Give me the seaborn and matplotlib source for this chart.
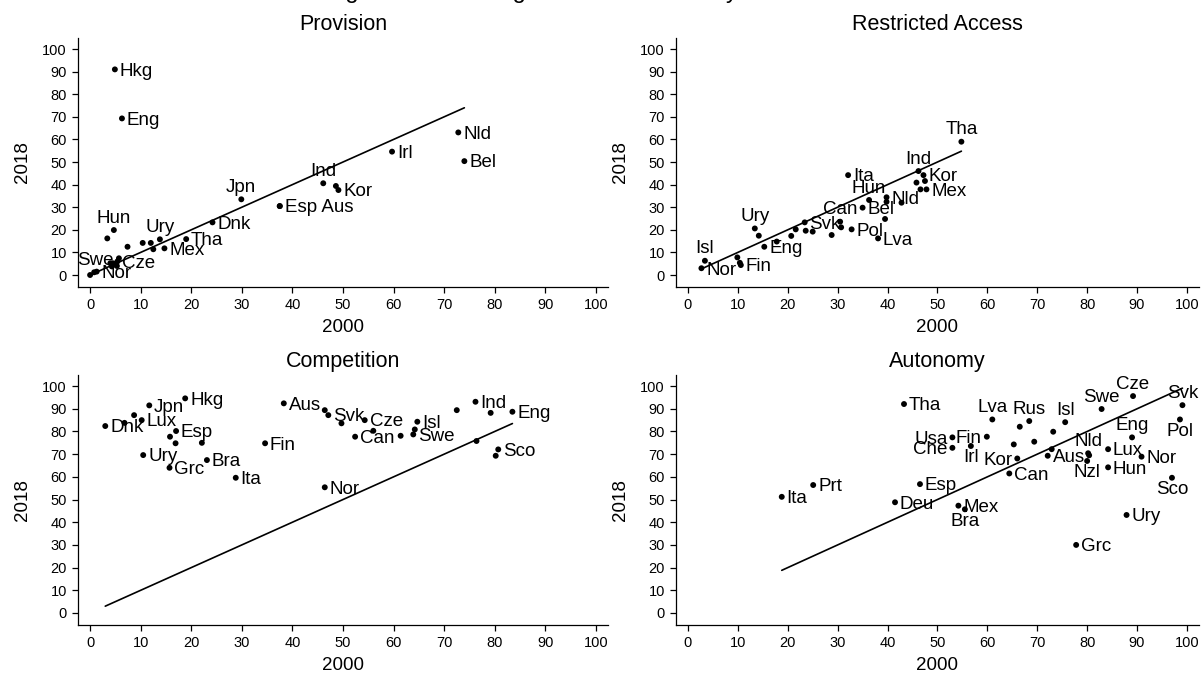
import pandas as pd
import matplotlib.pyplot as plt
import seaborn as sns

# ---- data (x = 2000, y = 2018) ----
prov_cty = ["Hkg", "Eng", "Hun", "", "", "", "", "Ury", "", "Mex", "Tha", "Dnk", "Jpn",
            "Esp", "Aus", "Ind", "", "Kor", "Irl", "Nld", "Bel",
            "", "", "Nor", "", "", "", "Swe", "Cze", ""]
prov_x = [4.9, 6.3, 4.7, 3.4, 7.4, 10.4, 12.0, 13.8, 12.5, 14.7, 19.0, 24.2, 29.9,
          37.5, 37.5, 46.1, 48.6, 49.1, 59.7, 72.8, 74.0,
          0.0, 0.8, 1.3, 4.0, 4.5, 4.3, 5.7, 5.4, 5.3]
prov_y = [91.0, 69.3, 19.9, 16.2, 12.5, 14.2, 14.2, 15.8, 11.4, 11.8, 15.9, 23.3, 33.5,
          30.5, 30.5, 40.6, 39.4, 37.6, 54.6, 63.1, 50.4,
          0.0, 1.2, 1.5, 5.2, 5.2, 3.8, 7.4, 6.0, 4.0]
prov_pos = [3, 3, 12, 3, 3, 3, 3, 12, 3, 3, 3, 3, 12,
            3, 3, 12, 3, 3, 3, 3, 3,
            3, 3, 3, 3, 3, 3, 9, 3, 3]

acc_cty = ["Tha", "Ind", "Kor", "", "", "", "Mex", "Ita", "Hun", "Nld", "", "", "Bel", "",
           "Can", "", "Pol", "Lva", "", "Svk", "", "", "", "", "", "Eng", "Ury", "",
           "", "", "Fin", "Isl", "Nor"]
acc_x = [54.8, 46.2, 47.2, 45.8, 47.5, 46.6, 47.8, 32.1, 36.3, 39.8, 39.8, 42.8, 35.0, 39.5,
         30.5, 30.7, 32.8, 38.1, 28.8, 23.4, 23.6, 25.0, 21.6, 20.7, 17.8, 15.3, 13.4, 14.2,
         9.9, 10.4, 10.6, 3.4, 2.7]
acc_y = [59.0, 46.0, 44.2, 40.9, 41.6, 37.9, 37.9, 44.2, 33.2, 34.4, 32.4, 32.0, 29.8, 24.8,
         23.6, 21.1, 20.2, 16.2, 17.7, 23.3, 19.6, 19.2, 20.2, 17.3, 14.8, 12.5, 20.6, 17.4,
         7.8, 5.4, 4.4, 6.3, 3.0]
acc_pos = [12, 12, 3, 3, 3, 3, 3, 3, 12, 3, 3, 3, 3, 3,
           12, 3, 3, 3, 3, 3, 3, 3, 3, 3, 3, 3, 12, 3,
           3, 3, 3, 12, 3]

comp_cty = ["Dnk", "", "", "Lux", "Jpn", "Hkg", "Esp", "", "", "", "Ury", "Grc", "Bra", "Ita",
            "Fin", "Aus", "", "Svk", "", "Cze", "Can", "", "", "Swe", "", "Isl", "", "Ind",
            "", "Eng", "", "Sco", "", "Nor"]
comp_x = [3.0, 6.8, 8.7, 10.2, 11.7, 18.8, 17.0, 15.8, 16.9, 22.1, 10.5, 15.7, 23.1, 28.8,
          34.6, 38.3, 46.4, 47.1, 49.7, 54.3, 52.4, 56.0, 61.4, 63.9, 64.2, 64.7, 72.5, 76.2,
          79.2, 83.5, 76.4, 80.7, 80.2, 46.4]
comp_y = [82.4, 83.8, 87.2, 85.0, 91.5, 94.6, 80.2, 77.7, 74.8, 75.0, 69.6, 64.0, 67.4, 59.6,
          74.8, 92.4, 89.4, 87.2, 83.6, 85.0, 77.7, 80.3, 78.1, 78.7, 80.9, 84.3, 89.4, 93.1,
          88.2, 88.7, 75.8, 72.1, 69.3, 55.4]
comp_pos = [3] * len(comp_cty)

aut_cty = ["Ita", "Prt", "Tha", "Deu", "Esp", "Usa", "Che", "Irl", "Fin", "Lva", "", "Rus",
           "Isl", "Swe", "Cze", "Svk", "Pol", "", "", "", "Kor", "Can", "", "Aus", "Nld", "",
           "Nzl", "Lux", "Hun", "Eng", "Nor", "Sco", "Mex", "Bra", "Ury", "Grc"]
aut_x = [18.8, 25.1, 43.3, 41.5, 46.5, 53.0, 53.0, 56.7, 59.9, 61.0, 66.5, 68.4,
         75.6, 82.9, 89.2, 99.1, 98.6, 73.2, 69.4, 65.3, 66.0, 64.4, 72.9, 72.1, 80.2, 80.4,
         80.0, 84.2, 84.2, 89.0, 90.9, 97.0, 54.2, 55.5, 87.9, 77.8]
aut_y = [51.2, 56.4, 92.1, 48.8, 56.8, 77.4, 72.8, 73.6, 77.7, 85.3, 82.1, 84.6,
         84.1, 89.9, 95.6, 91.6, 85.3, 79.9, 75.5, 74.3, 68.1, 61.5, 72.2, 69.3, 70.4, 69.5,
         67.0, 72.2, 64.2, 77.4, 68.9, 59.6, 47.3, 45.7, 43.2, 30.0]
aut_pos = [3, 3, 3, 3, 3, 9, 9, 6, 9, 12, 3, 12,
           12, 12, 12, 12, 6, 3, 3, 3, 9, 3, 3, 3, 12, 3,
           6, 3, 3, 12, 3, 6, 3, 6, 3, 3]

panels = [
    ("Provision", prov_cty, prov_x, prov_y, prov_pos),
    ("Restricted Access", acc_cty, acc_x, acc_y, acc_pos),
    ("Competition", comp_cty, comp_x, comp_y, comp_pos),
    ("Autonomy", aut_cty, aut_x, aut_y, aut_pos),
]
ticks = list(range(0, 101, 10))

sns.set_theme(style="white")
plt.rcParams["font.family"] = ["Liberation Sans", "DejaVu Sans"]

fig = plt.figure(figsize=(12.03, 6.77), dpi=100)
rects = [
    [0.0648, 0.5761, 0.4406, 0.3678],
    [0.5619, 0.5761, 0.4347, 0.3678],
    [0.0648, 0.0768, 0.4406, 0.3693],
    [0.5619, 0.0768, 0.4347, 0.3693],
]

# clock position -> (dx, dy, ha, va) in points
gap = 3.5
clock = {
    3: (gap, -1.3, "left", "center"),
    9: (-gap, -1.3, "right", "center"),
    12: (0, gap - 1, "center", "bottom"),
    6: (0, -gap + 1, "center", "top"),
}

for rect, (title, cty, xs, ys, pos) in zip(rects, panels):
    ax = fig.add_axes(rect)
    df = pd.DataFrame({"country": cty, "x": xs, "y": ys, "pos": pos})
    sns.scatterplot(data=df, x="x", y="y", ax=ax, color="black", s=18,
                    edgecolor="none", zorder=3)

    # 45-degree reference line over the observed 2000 range
    lo, hi = df["x"].min(), df["x"].max()
    ax.plot([lo, hi], [lo, hi], color="black", lw=1.2, zorder=2)

    # countries sharing a point get one joined label
    grp = df[df["country"] != ""].groupby(["x", "y"], sort=False)
    for (px, py), g in grp:
        text = " ".join(g["country"])
        dx, dy, ha, va = clock[int(g["pos"].iloc[0])]
        ax.annotate(text, (px, py), xytext=(dx, dy), textcoords="offset points",
                    ha=ha, va=va, fontsize=13.5, color="black", zorder=4)

    ax.set_xlim(-2.4, 102.4)
    ax.set_ylim(-5.3, 104.9)
    ax.set_xticks(ticks)
    ax.set_yticks(ticks)
    ax.tick_params(axis="both", which="both", direction="out", length=4.5, width=0.9,
                   color="black", labelsize=10.5, labelcolor="black", pad=3.5,
                   bottom=True, left=True)
    ax.set_xlabel("2000", fontsize=13.5, color="black", labelpad=5)
    ax.set_ylabel("2018", fontsize=13.5, color="black", labelpad=8)
    ax.set_title(title, fontsize=15.5, color="black", pad=6)
    sns.despine(ax=ax)
    for side in ["left", "bottom"]:
        ax.spines[side].set_color("black")
        ax.spines[side].set_linewidth(0.9)

# overall title, mostly above the top edge as in the reference
fig.text(0.5, 1.0 + 2 / 677, "Change in Market Regulation over Time by Core Dimension",
         ha="center", va="baseline", fontsize=17, color="black")

fig.savefig("out.png", dpi=100)
